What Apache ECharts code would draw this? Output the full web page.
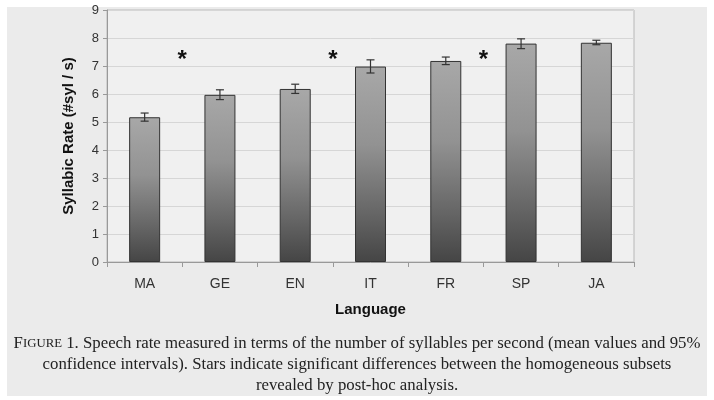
<!DOCTYPE html>
<html>
<head>
<meta charset="utf-8">
<script src="https://cdn.jsdelivr.net/npm/echarts@6/dist/echarts.min.js"></script>
<style>
  html, body { margin: 0; padding: 0; background: #fff; }
  #chart { width: 714px; height: 400px; }
</style>
</head>
<body>
<div id="chart"></div>
<script>
var languages = ['MA', 'GE', 'EN', 'IT', 'FR', 'SP', 'JA'];
var rates = [5.17, 5.97, 6.18, 6.98, 7.18, 7.80, 7.83];
var ciLow = [5.03, 5.80, 6.02, 6.75, 7.05, 7.62, 7.76];
var ciHigh = [5.32, 6.15, 6.35, 7.22, 7.32, 7.97, 7.92];
// stars sit between category i and i+1
var starAfter = [0, 2, 4];
var starLevel = 7.2;
var yTicks = [0, 9, 1]; // min, max, interval

var chart = echarts.init(document.getElementById('chart'));

var errData = languages.map(function (l, i) { return [i, ciLow[i], ciHigh[i]]; });
var starData = starAfter.map(function (i) { return [i, starLevel]; });

chart.setOption({
    backgroundColor: '#fff',
    animation: false,
    graphic: [
        { type: 'rect', z: -10, shape: { x: 7, y: 7, width: 700, height: 389 }, style: { fill: '#ebebeb' } },
        {
            type: 'text', left: 'center', top: 335,
            style: {
                text: '{a|F}{b|IGURE} 1. Speech rate measured in terms of the number of syllables per second (mean values and 95%',
                rich: {
                    a: { fontFamily: 'Liberation Serif', fontSize: 16.8, fill: '#222' },
                    b: { fontFamily: 'Liberation Serif', fontSize: 12.8, fill: '#222' }
                },
                font: '16.8px "Liberation Serif"', fill: '#222'
            }
        },
        {
            type: 'text', left: 'center', top: 356,
            style: { text: 'confidence intervals). Stars indicate significant differences between the homogeneous subsets', font: '16.8px "Liberation Serif"', fill: '#222' }
        },
        {
            type: 'text', left: 'center', top: 377,
            style: { text: 'revealed by post-hoc analysis.', font: '16.8px "Liberation Serif"', fill: '#222' }
        }
    ],
    grid: {
        left: 107, right: 80, top: 10, bottom: 138,
        show: true, backgroundColor: '#f0f0f0', borderColor: '#b8b8b8', borderWidth: 1
    },
    xAxis: {
        type: 'category',
        data: languages,
        name: 'Language',
        nameLocation: 'middle',
        nameGap: 40,
        nameTextStyle: { fontFamily: 'Liberation Sans', fontSize: 15, fontWeight: 'bold', color: '#111' },
        axisLine: { lineStyle: { color: '#999' } },
        axisTick: { show: true, length: 5, lineStyle: { color: '#999' } },
        axisLabel: { fontFamily: 'Liberation Sans', fontSize: 14, color: '#333', margin: 15 }
    },
    yAxis: {
        type: 'value',
        min: yTicks[0], max: yTicks[1], interval: yTicks[2],
        name: 'Syllabic Rate (#syl / s)',
        nameLocation: 'middle',
        nameGap: 31,
        nameTextStyle: { fontFamily: 'Liberation Sans', fontSize: 15, fontWeight: 'bold', color: '#111' },
        axisLine: { show: true, lineStyle: { color: '#999' } },
        axisTick: { show: true, length: 4, lineStyle: { color: '#999' } },
        axisLabel: { fontFamily: 'Liberation Sans', fontSize: 13, color: '#333', margin: 8 },
        splitLine: { lineStyle: { color: '#d6d6d6' } }
    },
    series: [
        {
            type: 'bar',
            data: rates,
            barWidth: 31,
            itemStyle: {
                borderColor: '#333',
                borderWidth: 1,
                color: new echarts.graphic.LinearGradient(0, 0, 0, 1, [
                    { offset: 0, color: '#a8a8a8' },
                    { offset: 0.4, color: '#929292' },
                    { offset: 0.75, color: '#666' },
                    { offset: 1, color: '#454545' }
                ])
            }
        },
        {
            type: 'custom',
            data: errData,
            z: 5,
            renderItem: function (params, api) {
                var x = api.value(0);
                var lo = api.coord([x, api.value(1)]);
                var hi = api.coord([x, api.value(2)]);
                var w = 4;
                var s = { stroke: '#333', lineWidth: 1.2 };
                return {
                    type: 'group',
                    children: [
                        { type: 'line', shape: { x1: lo[0], y1: lo[1], x2: hi[0], y2: hi[1] }, style: s },
                        { type: 'line', shape: { x1: lo[0] - w, y1: lo[1], x2: lo[0] + w, y2: lo[1] }, style: s },
                        { type: 'line', shape: { x1: hi[0] - w, y1: hi[1], x2: hi[0] + w, y2: hi[1] }, style: s }
                    ]
                };
            }
        },
        {
            type: 'custom',
            data: starData,
            renderItem: function (params, api) {
                var i = api.value(0);
                var a = api.coord([i, api.value(1)]);
                var b = api.coord([i + 1, api.value(1)]);
                return {
                    type: 'text',
                    style: {
                        text: '*', x: (a[0] + b[0]) / 2, y: a[1],
                        align: 'center', verticalAlign: 'middle',
                        font: 'bold 24px "Liberation Sans"', fill: '#111'
                    }
                };
            }
        }
    ]
});
</script>
</body>
</html>
